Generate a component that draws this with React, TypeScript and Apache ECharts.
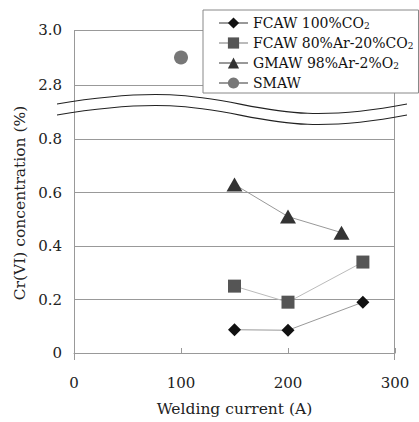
import React, { useEffect, useRef } from "react";
import * as echarts from "echarts";

const seriesNames = ["FCAW 100%CO2", "FCAW 80%Ar-20%CO2", "GMAW 98%Ar-2%O2", "SMAW"];
const legendLabels = ["FCAW 100%CO{s|2}", "FCAW 80%Ar-20%CO{s|2}", "GMAW 98%Ar-2%O{s|2}", "SMAW"];
const fcawCO2: [number, number][] = [[150, 0.087], [200, 0.085], [270, 0.19]];
const fcawAr: [number, number][] = [[150, 0.25], [200, 0.19], [270, 0.34]];
const gmaw: [number, number][] = [[150, 0.63], [200, 0.51], [250, 0.45]];
const smaw: [number, number][] = [[100, 2.9]];
const xTicks = [0, 100, 200, 300];
const yLowTicks = [0, 0.2, 0.4, 0.6, 0.8];
const yHighTicks = [2.8, 3.0];

const FONT = "DejaVu Serif";
const TXT = "#222";
const GRID = "#999";

export default function App() {
  const ref = useRef<HTMLDivElement>(null);
  useEffect(() => {
    if (!ref.current) return;
    const chart = echarts.init(ref.current, null, { renderer: "svg" });
    const fmtY = (v: number) => (v === 0 ? "0" : v.toFixed(1));
    const lineBase = { type: "line", symbolKeepAspect: true, emphasis: { disabled: true } };
    const option: any = {
      animation: false,
      backgroundColor: "#fff",
      grid: [
        { left: 74, right: 24, top: 139, height: 221 },
        { left: 74, right: 24, top: 30, height: 55 },
      ],
      xAxis: [
        {
          gridIndex: 0,
          type: "value",
          min: xTicks[0],
          max: xTicks[xTicks.length - 1],
          interval: 100,
          axisLine: { show: true, lineStyle: { color: GRID } },
          axisTick: { show: true, inside: true, length: 5, lineStyle: { color: GRID } },
          axisLabel: { margin: 22, fontFamily: FONT, fontSize: 15, color: TXT },
          splitLine: { show: false },
          name: "Welding current (A)",
          nameLocation: "middle",
          nameGap: 48,
          nameTextStyle: { fontFamily: FONT, fontSize: 15.5, color: TXT },
        },
        {
          gridIndex: 1,
          type: "value",
          min: xTicks[0],
          max: xTicks[xTicks.length - 1],
          show: false,
        },
      ],
      yAxis: [
        {
          gridIndex: 0,
          type: "value",
          min: yLowTicks[0],
          max: yLowTicks[yLowTicks.length - 1],
          interval: 0.2,
          axisLine: { show: false },
          axisTick: { show: false },
          axisLabel: { margin: 12, fontFamily: FONT, fontSize: 15, color: TXT, formatter: fmtY },
          splitLine: { show: true, lineStyle: { color: GRID, width: 1 } },
        },
        {
          gridIndex: 1,
          type: "value",
          min: yHighTicks[0],
          max: yHighTicks[yHighTicks.length - 1],
          interval: 0.2,
          axisLine: { show: false },
          axisTick: { show: false },
          axisLabel: { margin: 12, fontFamily: FONT, fontSize: 15, color: TXT, formatter: fmtY },
          splitLine: { show: true, lineStyle: { color: GRID, width: 1 } },
        },
      ],
      legend: {
        data: seriesNames,
        orient: "vertical",
        left: 203,
        top: 10,
        align: "left",
        padding: [6, 5, 3, 15],
        itemWidth: 29,
        itemHeight: 14,
        itemGap: 6,
        backgroundColor: "#fff",
        borderColor: "#888",
        borderWidth: 1,
        z: 10,
        formatter: (name: string) => legendLabels[seriesNames.indexOf(name)],
        textStyle: {
          fontFamily: FONT,
          fontSize: 14,
          lineHeight: 14,
          color: "#111",
          rich: {
            s: { fontFamily: FONT, fontSize: 9, lineHeight: 8, color: "#111", verticalAlign: "bottom" },
          },
        },
      },
      series: [
        {
          ...lineBase,
          name: seriesNames[0],
          xAxisIndex: 0,
          yAxisIndex: 0,
          data: fcawCO2,
          symbol: "diamond",
          symbolSize: 13,
          itemStyle: { color: "#111" },
          lineStyle: { color: "#999", width: 1 },
        },
        {
          ...lineBase,
          name: seriesNames[1],
          xAxisIndex: 0,
          yAxisIndex: 0,
          data: fcawAr,
          symbol: "rect",
          symbolSize: 13,
          itemStyle: { color: "#555" },
          lineStyle: { color: "#bbb", width: 1 },
        },
        {
          ...lineBase,
          name: seriesNames[2],
          xAxisIndex: 0,
          yAxisIndex: 0,
          data: gmaw,
          symbol: "triangle",
          symbolSize: [16, 14],
          itemStyle: { color: "#333" },
          lineStyle: { color: "#999", width: 1 },
        },
        {
          ...lineBase,
          name: seriesNames[3],
          xAxisIndex: 1,
          yAxisIndex: 1,
          data: smaw,
          symbol: "circle",
          symbolSize: 14,
          itemStyle: { color: "#777" },
          lineStyle: { color: "#999", width: 1 },
        },
      ],
      graphic: [
        { type: "line", z: 1, shape: { x1: 74.5, y1: 30, x2: 74.5, y2: 360 }, style: { stroke: GRID, lineWidth: 1 } },
        { type: "line", z: 1, shape: { x1: 394.5, y1: 30, x2: 394.5, y2: 360 }, style: { stroke: GRID, lineWidth: 1 } },
        {
          type: "bezierCurve",
          z: 2,
          shape: { x1: 57, y1: 104, cpx1: 250, cpy1: 71, cpx2: 234, cpy2: 137, x2: 407, y2: 104 },
          style: { stroke: "#222", lineWidth: 1.1, fill: null },
        },
        {
          type: "bezierCurve",
          z: 2,
          shape: { x1: 57, y1: 115, cpx1: 250, cpy1: 82, cpx2: 234, cpy2: 148, x2: 407, y2: 115 },
          style: { stroke: "#222", lineWidth: 1.1, fill: null },
        },
        {
          type: "text",
          z: 3,
          x: 20,
          y: 203,
          rotation: Math.PI / 2,
          style: {
            text: "Cr(VI) concentration (%)",
            fontFamily: FONT,
            fontSize: 15.5,
            fill: TXT,
            align: "center",
            verticalAlign: "middle",
          },
        },
      ],
    };
    chart.setOption(option);
    return () => chart.dispose();
  }, []);
  return (
    <div
      ref={ref}
      style={{ position: "fixed", left: 0, top: 0, width: 419, height: 422, background: "#fff" }}
    />
  );
}
